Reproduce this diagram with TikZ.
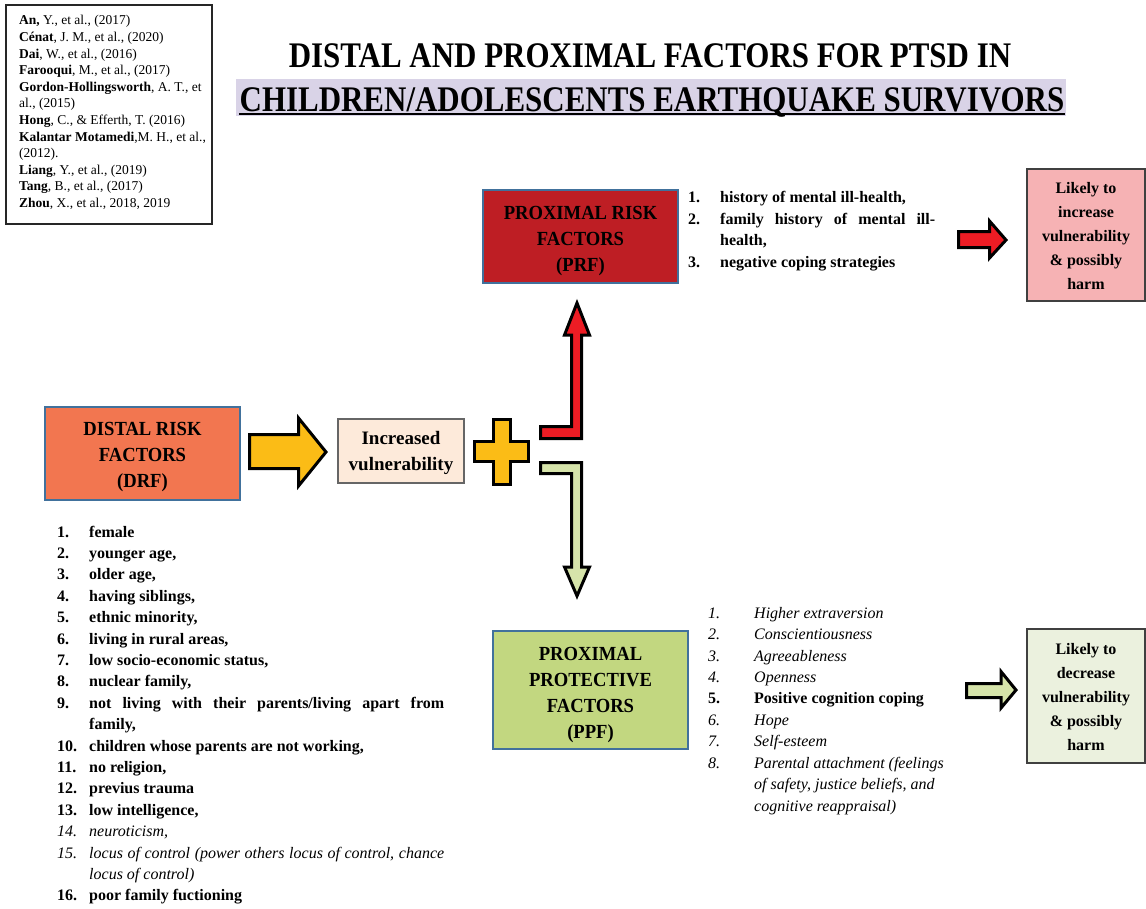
\documentclass[tikz,border=0pt]{standalone}
\usepackage{fontspec}
\usepackage{array}
\setmainfont{Liberation Serif}
\newfontfamily\titlefont[FakeStretch=0.86]{Liberation Serif}
\newfontfamily\headfont[FakeStretch=0.93]{Liberation Serif}
\usetikzlibrary{calc}

\definecolor{bandlav}{RGB}{217,211,231}
\definecolor{drfcol}{RGB}{242,118,80}
\definecolor{prfcol}{RGB}{190,30,36}
\definecolor{ppfcol}{RGB}{194,215,128}
\definecolor{incvcol}{RGB}{253,234,218}
\definecolor{incrcol}{RGB}{246,178,180}
\definecolor{decrcol}{RGB}{235,241,222}
\definecolor{boxblue}{RGB}{65,113,156}
\definecolor{arrowyellow}{RGB}{251,188,22}
\definecolor{arrowred}{RGB}{237,28,36}
\definecolor{arrowgreen}{RGB}{214,228,170}

\tikzset{
  headbox/.style={draw=boxblue, line width=1.2pt, inner sep=0pt},
  headtext/.style={inner sep=0pt, align=center,
    font=\headfont\bfseries\fontsize{20}{26}\selectfont},
  outcomebox/.style={draw=black!75, line width=1.3pt, inner sep=0pt, minimum width=118pt},
  outcometext/.style={inner sep=0pt, align=center, font=\bfseries\fontsize{16}{24}\selectfont},
  blockarrow/.style={draw=black, line width=3pt, line join=miter, miter limit=10},
  listtext/.style={anchor=north west, inner sep=0pt, align=left},
}

\begin{document}
\begin{tikzpicture}[x=1pt, y=-1pt]
\useasboundingbox (0,0) rectangle (1146,908);

% sources box
\draw[line width=1.3pt, black!85] (6,5) rectangle (212,224);
\node[listtext, font=\fontsize{13.5}{16.6}\selectfont] (refs) at (19,13) {%
\begin{tabular}{@{}l@{}}
\textbf{An,} Y., et al., (2017)\\
\textbf{Cénat}, J. M., et al., (2020)\\
\textbf{Dai}, W., et al., (2016)\\
\textbf{Farooqui}, M., et al., (2017)\\
\textbf{Gordon-Hollingsworth}, A. T., et\\
al., (2015)\\
\textbf{Hong}, C., \& Efferth, T. (2016)\\
\textbf{Kalantar Motamedi},M. H., et al.,\\
(2012).\\
\textbf{Liang}, Y., et al., (2019)\\
\textbf{Tang}, B., et al., (2017)\\
\textbf{Zhou}, X., et al., 2018, 2019
\end{tabular}};

% title
\fill[bandlav] (236,79) rectangle (1066,116);
\node[anchor=base, inner sep=0pt, font=\titlefont\bfseries\fontsize{36}{40}\selectfont] (title1) at (650,67)
  {DISTAL AND PROXIMAL FACTORS FOR PTSD IN};
\node[anchor=base, inner sep=0pt, font=\titlefont\bfseries\fontsize{36}{40}\selectfont] (title2) at (652,111)
  {CHILDREN/ADOLESCENTS EARTHQUAKE SURVIVORS};
\draw[line width=2pt] ($(title2.base west)+(0,3)$) -- ($(title2.base east)+(0,3)$);

% factor boxes
\node[headbox, fill=drfcol, minimum width=195pt, minimum height=93pt] (drf) at (142.5,453.5) {};
\node[headtext] (drftext) at ($(drf.center)+(0,4)$) {DISTAL RISK\\FACTORS\\(DRF)};
\node[headbox, fill=prfcol, minimum width=195pt, minimum height=93pt] (prf) at (580.5,236.5) {};
\node[headtext] (prftext) at ($(prf.center)+(0,5)$) {PROXIMAL RISK\\FACTORS\\(PRF)};
\node[headbox, fill=ppfcol, minimum width=195pt, minimum height=118pt] (ppf) at (590.5,690) {};
\node[headtext] (ppftext) at ($(ppf.center)+(0,5)$) {PROXIMAL\\PROTECTIVE\\FACTORS\\(PPF)};
\node[draw=black!60, line width=1.2pt, fill=incvcol, minimum width=126pt, minimum height=64pt,
  inner sep=0pt] (incv) at (401,451) {};
\node[inner sep=0pt, align=center, font=\bfseries\fontsize{19}{26}\selectfont] (incvtext)
  at ($(incv.center)+(0,2)$) {Increased\\vulnerability};

% outcome boxes
\node[outcomebox, fill=incrcol, minimum height=132pt] (incr) at (1086,235) {};
\node[outcometext] (incrtext) at ($(incr.center)+(0,1.5)$)
  {Likely to\\increase\\vulnerability\\\& possibly\\harm};
\node[outcomebox, fill=decrcol, minimum height=134pt] (decr) at (1086,696) {};
\node[outcometext] (decrtext) at ($(decr.center)+(0,1)$)
  {Likely to\\decrease\\vulnerability\\\& possibly\\harm};

% block arrows
\filldraw[blockarrow, fill=arrowyellow]
  (249.5,434.5) -- (298.5,434.5) -- (298.5,418) -- (326,452) -- (298.5,486) -- (298.5,468.5) -- (249.5,468.5) -- cycle;
\filldraw[blockarrow, fill=arrowyellow]
  (493.5,419.5) -- (510.5,419.5) -- (510.5,441.5) -- (528.5,441.5) -- (528.5,461.5) -- (510.5,461.5)
  -- (510.5,484.5) -- (493.5,484.5) -- (493.5,461.5) -- (474.5,461.5) -- (474.5,441.5) -- (493.5,441.5) -- cycle;
\filldraw[blockarrow, fill=arrowred]
  (540.5,426.5) -- (571.5,426.5) -- (571.5,335) -- (564.5,335) -- (577,303) -- (589.5,335)
  -- (581.5,335) -- (581.5,438.5) -- (540.5,438.5) -- cycle;
\filldraw[blockarrow, fill=arrowgreen]
  (540.5,462.5) -- (581.5,462.5) -- (581.5,567) -- (589.5,567) -- (577,596) -- (564.5,567)
  -- (571.5,567) -- (571.5,473.5) -- (540.5,473.5) -- cycle;
\filldraw[blockarrow, fill=arrowred]
  (958.5,231.5) -- (989.5,231.5) -- (989.5,221) -- (1006,240) -- (989.5,258) -- (989.5,247.5) -- (958.5,247.5) -- cycle;
\filldraw[blockarrow, fill=arrowgreen]
  (966.5,683.5) -- (1001,683.5) -- (1001,671.5) -- (1016,690) -- (1001,708) -- (1001,697.5) -- (966.5,697.5) -- cycle;

% distal risk factors list
\node[listtext, font=\bfseries\fontsize{16}{21.4}\selectfont] (drflist) at (57,522) {%
\begin{tabular}{@{}p{32pt}@{}p{355pt}@{}}
1. & female\\
2. & younger age,\\
3. & older age,\\
4. & having siblings,\\
5. & ethnic minority,\\
6. & living in rural areas,\\
7. & low socio-economic status,\\
8. & nuclear family,\\
9. & not living with their parents/living apart from\linebreak family,\\
10. & children whose parents are not working,\\
11. & no religion,\\
12. & previus trauma\\
13. & low intelligence,\\
\mdseries\itshape 14. & \mdseries\itshape neuroticism,\\
\mdseries\itshape 15. & \mdseries\itshape locus of control (power others locus of control, chance\linebreak locus of control)\\
16. & poor family fuctioning
\end{tabular}};

% proximal risk factors list
\node[listtext, font=\bfseries\fontsize{16}{21.7}\selectfont] (prflist) at (688,187) {%
\begin{tabular}{@{}p{32pt}@{}p{215pt}@{}}
1. & history of mental ill-health,\\
2. & family history of mental ill-\linebreak{}health,\\
3. & negative coping strategies
\end{tabular}};

% proximal protective factors list
\node[listtext, font=\itshape\fontsize{16}{21.44}\selectfont] (ppflist) at (708,603) {%
\begin{tabular}{@{}p{46pt}@{}p{200pt}@{}}
1. & Higher extraversion\\
2. & Conscientiousness\\
3. & Agreeableness\\
4. & Openness\\
\upshape\bfseries 5. & \upshape\bfseries Positive cognition coping\\
6. & Hope\\
7. & Self-esteem\\
8. & Parental attachment (feelings\newline of safety, justice beliefs, and\newline cognitive reappraisal)
\end{tabular}};

\end{tikzpicture}
\end{document}
